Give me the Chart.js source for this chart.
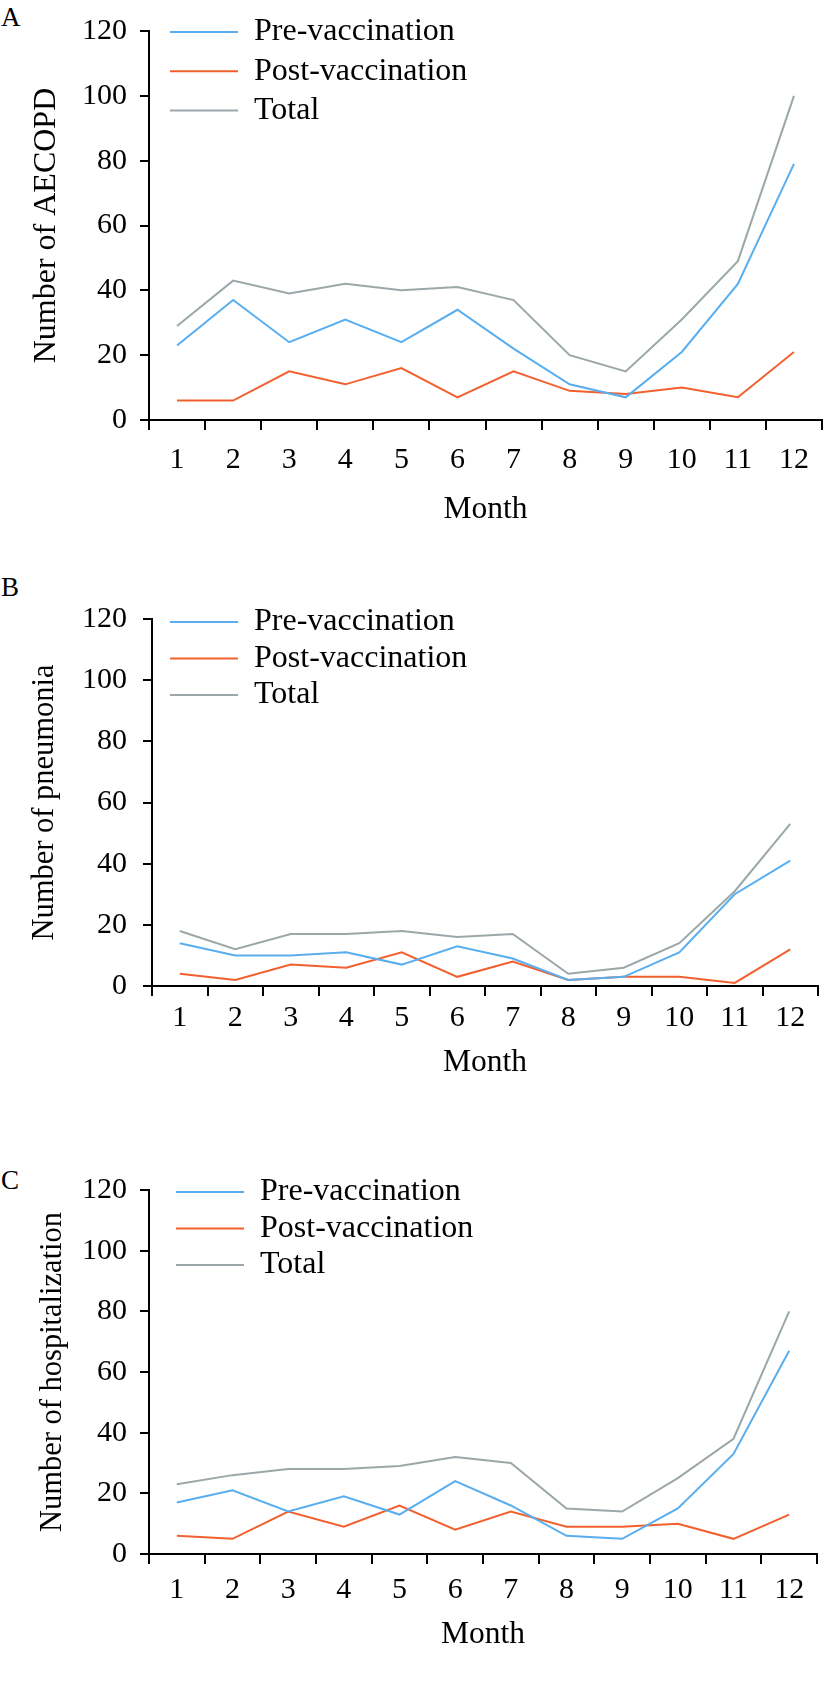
<!DOCTYPE html>
<html>
<head>
<meta charset="utf-8">
<script src="https://cdn.jsdelivr.net/npm/chart.js@4.4.1/dist/chart.umd.min.js"></script>
<style>
html,body{margin:0;padding:0;background:#fff;}
body{width:824px;height:1696px;position:relative;overflow:hidden;font-family:'Liberation Serif',serif;}
canvas{position:absolute;left:0;}
.lab{position:absolute;left:1px;font-size:27px;line-height:27px;color:#000;font-family:'Liberation Serif',serif;}
</style>
</head>
<body>
<div class="lab" style="top:4.4px">A</div>
<div class="lab" style="top:574.4px">B</div>
<div class="lab" style="top:1167.4px">C</div>
<canvas id="cA" width="824" height="540" style="top:0px"></canvas>
<canvas id="cB" width="824" height="540" style="top:560px"></canvas>
<canvas id="cC" width="824" height="566" style="top:1130px"></canvas>
<script>
// ---- data ----
const months = ['1','2','3','4','5','6','7','8','9','10','11','12'];
const seriesNames = ['Pre-vaccination','Post-vaccination','Total'];

const aecopdPre   = [23,37,24,31,24,34,22,11,7,21,42,79];
const aecopdPost  = [6,6,15,11,16,7,15,9,8,10,7,21];
const aecopdTotal = [29,43,39,42,40,41,37,20,15,31,49,100];

const pneuPre   = [14,10,10,11,7,13,9,2,3,11,30,41];
const pneuPost  = [4,2,7,6,11,3,8,2,3,3,1,12];
const pneuTotal = [18,12,17,17,18,16,17,4,6,14,31,53];

const hospPre   = [17,21,14,19,13,24,16,6,5,15,33,67];
const hospPost  = [6,5,14,9,16,8,14,9,9,10,5,13];
const hospTotal = [23,26,28,28,29,32,30,15,14,25,38,80];

const yMin = 0, yMax = 120, yStep = 20;
const xTitle = 'Month';

// ---- styling ----
const colors = ['#58AEEF', '#F2602F', '#9CA7A9'];
Chart.defaults.font.family = "'Liberation Serif', serif";
Chart.defaults.color = '#000';

const legendPlace = {
  id: 'legendPlace',
  afterLayout(chart, args, opts) {
    const lg = chart.legend;
    if (!lg) return;
    const w = lg.width;
    lg.left = opts.x; lg.top = opts.y;
    lg.right = opts.x + w; lg.bottom = opts.y + 400;
  }
};

function makeChart(id, yTitle, pre, post, total, g) {
  const ctx = document.getElementById(id).getContext('2d');
  const vals = [pre, post, total];
  return new Chart(ctx, {
    type: 'line',
    data: {
      labels: months,
      datasets: vals.map((v, i) => ({
        label: seriesNames[i],
        data: v,
        borderColor: colors[i],
        backgroundColor: colors[i],
        borderWidth: 2,
        pointRadius: 0,
        tension: 0,
        fill: false
      }))
    },
    options: {
      responsive: false,
      animation: false,
      events: [],
      layout: { padding: { left: 0, top: g.padTop, right: g.padRight, bottom: 0 } },
      plugins: {
        tooltip: { enabled: false },
        legendPlace: { x: g.legX, y: g.legY },
        legend: {
          position: 'chartArea',
          align: 'start',
          labels: {
            boxWidth: 68,
            boxHeight: 2,
            padding: g.legPad,
            color: '#000',
            font: { size: 32 },
            generateLabels(chart) {
              const items = Chart.defaults.plugins.legend.labels.generateLabels(chart);
              items.forEach(it => { it.fillStyle = it.strokeStyle; it.lineWidth = 0; });
              return items;
            }
          }
        }
      },
      scales: {
        x: {
          type: 'category',
          offset: true,
          afterFit(s) { s.height = g.xHeight; },
          grid: { offset: true, drawOnChartArea: false, drawTicks: true, tickLength: 10, color: '#000', lineWidth: 2 },
          border: { display: true, color: '#000', width: 2 },
          ticks: { font: { size: 30 }, color: '#000', padding: g.xTickPad, maxRotation: 0, autoSkip: false },
          title: { display: true, text: xTitle, font: { size: 31.5 }, color: '#000', padding: { top: 0, bottom: g.xTitlePadB } }
        },
        y: {
          min: yMin, max: yMax,
          afterFit(s) { s.width = g.yWidth; },
          grid: { drawOnChartArea: false, drawTicks: true, tickLength: 9, color: '#000', lineWidth: 2 },
          border: { display: true, color: '#000', width: 2 },
          ticks: { stepSize: yStep, font: { size: 30 }, color: '#000', padding: g.yTickPad },
          title: { display: true, text: yTitle, font: { size: g.titleFont }, color: '#000', padding: { top: g.yTitlePadT, bottom: 0 } }
        }
      }
    },
    plugins: [legendPlace]
  });
}

makeChart('cA', 'Number of AECOPD', aecopdPre, aecopdPost, aecopdTotal, {
  padTop: 28, padRight: 2, yWidth: 149, xHeight: 120,
  xTickPad: 12, xTitlePadB: 11.1, yTickPad: 13, yTitlePadT: 27.8,
  titleFont: 32, legPad: 7.3, legX: 162.7, legY: 8.7
});
makeChart('cB', 'Number of pneumonia', pneuPre, pneuPost, pneuTotal, {
  padTop: 59, padRight: 6, yWidth: 152, xHeight: 114,
  xTickPad: 4, xTitlePadB: 18.1, yTickPad: 16, yTitlePadT: 26.7,
  titleFont: 30.5, legPad: 4.5, legX: 165.5, legY: 41.5
});
makeChart('cC', 'Number of hospitalization', hospPre, hospPost, hospTotal, {
  padTop: 60, padRight: 7, yWidth: 149, xHeight: 142,
  xTickPad: 8, xTitlePadB: 42.1, yTickPad: 13, yTitlePadT: 34.7,
  titleFont: 30.5, legPad: 4.5, legX: 171.5, legY: 41.5
});
</script>
</body>
</html>
